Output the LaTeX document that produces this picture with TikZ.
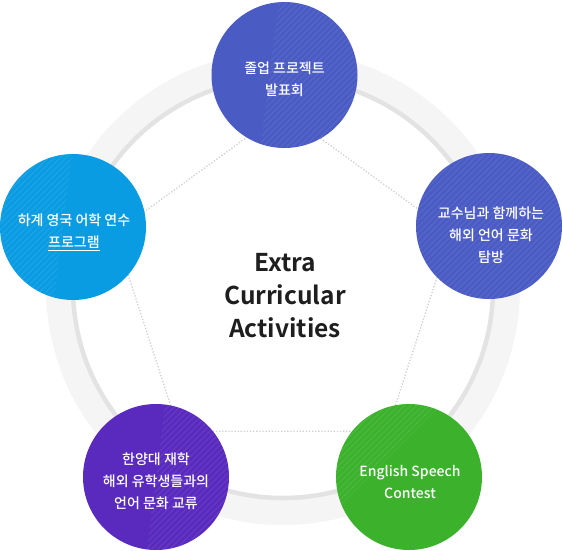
\documentclass[tikz,border=0pt]{standalone}
\usepackage{fontspec}
\setmainfont{Noto Sans CJK KR}
\newfontfamily\kr{Noto Sans CJK KR}[UprightFont={* Medium},BoldFont={* Bold}]
\usetikzlibrary{calc}
\definecolor{ringlight}{HTML}{F5F5F5}
\definecolor{ringdark}{HTML}{E3E3E3}
\definecolor{indigoc}{HTML}{4A5BC4}
\definecolor{bluec}{HTML}{0A9CE3}
\definecolor{purplec}{HTML}{5A2ABE}
\definecolor{greenc}{HTML}{3CB22C}
\definecolor{dotc}{HTML}{D0D0D0}
\definecolor{titlec}{HTML}{1E1E1E}
\begin{document}
\begin{tikzpicture}[x=1pt,y=-1pt,
  bubble/.style={circle, minimum size=146pt, inner sep=0pt},
  bubbletext/.style={align=center, text=white, inner sep=0pt,
    font=\kr\fontsize{14}{22}\selectfont},
  dotline/.style={draw=dotc, line width=1.3pt, dash pattern=on 1.3pt off 1.8pt},
  stripe/.style={white, opacity=0.07, line width=1.4pt},
  stripes/.style={path picture={
    \begin{scope}[shift={(path picture bounding box.center)}]
      \clip #1;
      \foreach \i in {-160,-154,...,160} \draw[stripe] (\i-90,90) -- (\i+90,-90);
    \end{scope}}}]
\useasboundingbox (0,0) rectangle (563,550);
\coordinate (o) at (283,288);
\draw[draw=ringlight, line width=27pt] (o) circle (223.5);
\draw[draw=ringdark, line width=4.5pt] (o) circle (210);
% dotted pentagon
\coordinate (p1) at (283,111);
\coordinate (p2) at (451.3,233.3);
\coordinate (p3) at (387,431.2);
\coordinate (p4) at (179,431.2);
\coordinate (p5) at (114.7,233.3);
\draw[dotline] (p1) -- (p2) -- (p3) -- (p4) -- (p5) -- cycle;
% circles
\node[bubble, fill=indigoc, stripes={(-5,-80) -- (80,-80) -- (80,80) -- (-25,80) -- cycle}]
  (top) at (284.5,75) {};
\node[bubble, fill=indigoc, stripes={(-80,-80) rectangle (80,80)}]
  (right) at (489,226) {};
\node[bubble, fill=bluec, stripes={(-80,-80) -- (0,-80) -- (-20,80) -- (-80,80) -- cycle}]
  (left) at (73,227) {};
\node[bubble, fill=purplec, stripes={(10,-80) -- (80,-80) -- (80,80) -- (-10,80) -- cycle}]
  (bl) at (156,477) {};
\node[bubble, fill=greenc, stripes={(-80,-80) -- (40,-80) -- (-80,40) -- cycle}]
  (br) at (409,477) {};
% labels
\node[bubbletext] (topt) at ($(top)+(0,4)$) {졸업 프로젝트\\발표회};
\node[bubbletext] (rightt) at ($(right)+(2,9)$) {교수님과 함께하는\\해외 언어 문화\\탐방};
\node[bubbletext] (leftt) at ($(left)+(1,5)$) {하계 영국 어학 연수\\\underline{프로그램}};
\node[bubbletext] (blt) at ($(bl)+(0,4)$) {한양대 재학\\해외 유학생들과의\\언어 문화 교류};
\node[bubbletext] (brt) at ($(br)+(1,5)$) {English Speech\\Contest};
% title
\node[align=center, text=titlec, font=\kr\bfseries\fontsize{24.5}{33}\selectfont]
  (title) at (285,296) {Extra\\Curricular\\Activities};
\end{tikzpicture}
\end{document}
